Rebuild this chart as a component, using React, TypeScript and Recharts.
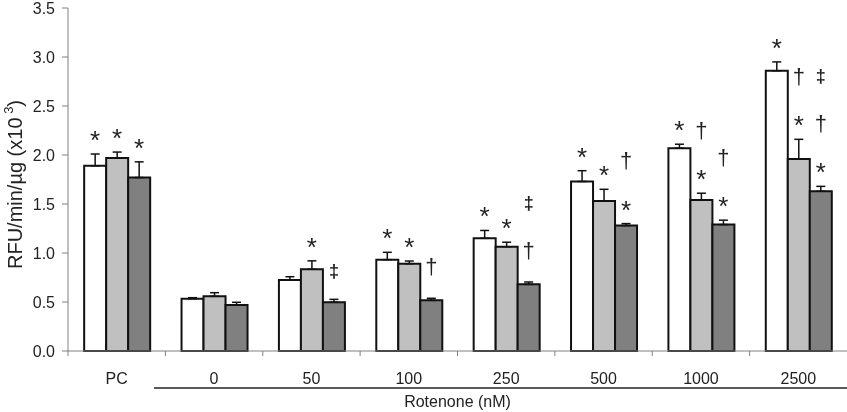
import React from 'react';
import { BarChart, Bar, XAxis, YAxis, ErrorBar, LabelList } from 'recharts';

const categories = ['PC', '0', '50', '100', '250', '500', '1000', '2500'];

const whiteValues = [1.89, 0.534, 0.724, 0.932, 1.15, 1.73, 2.07, 2.86];
const whiteErrors = [0.12, 0.01, 0.034, 0.075, 0.08, 0.11, 0.04, 0.09];
const whiteMarks = ['*', '', '', '*', '*', '*', '*', '*'];

const grayValues = [1.97, 0.558, 0.834, 0.891, 1.064, 1.53, 1.54, 1.96];
const grayErrors = [0.06, 0.037, 0.086, 0.027, 0.046, 0.12, 0.07, 0.2];
const grayMarks = ['*', '', '*', '*', '*', '*', '*†', '*†'];

const darkValues = [1.77, 0.469, 0.497, 0.517, 0.68, 1.28, 1.29, 1.63];
const darkErrors = [0.16, 0.028, 0.03, 0.021, 0.024, 0.02, 0.045, 0.05];
const darkMarks = ['*', '', '‡', '†', '†‡', '*†', '*†', '*†‡'];

const yTicks = [0, 0.5, 1, 1.5, 2, 2.5, 3, 3.5];
const xAxisTitle = 'Rotenone (nM)';

const data = categories.map((c, i) => ({
  cat: c,
  white: whiteValues[i],
  whiteErr: [0, whiteErrors[i]],
  whiteMark: whiteMarks[i],
  gray: grayValues[i],
  grayErr: [0, grayErrors[i]],
  grayMark: grayMarks[i],
  dark: darkValues[i],
  darkErr: [0, darkErrors[i]],
  darkMark: darkMarks[i],
}));

const FONT = '"Liberation Sans", Arial, Helvetica, sans-serif';
const W = 847;
const H = 412;
const PLOT_LEFT = 68;
const PLOT_W = W - PLOT_LEFT;
const BAND = PLOT_W / categories.length;

const firstOffset: Record<string, number> = { '*': 20, '†': 31, '‡': 28 };
const stepOffset: Record<string, number> = { '*': 42, '†': 42, '‡': 48 };
const symSize: Record<string, number> = { '*': 26, '†': 22, '‡': 18 };
const symWeight: Record<string, string> = { '*': 'normal', '†': 'normal', '‡': 'bold' };
const baselineShift: Record<string, number> = { '*': 15, '†': 6.5, '‡': 5.5 };

const makeMarkRenderer = (errors: number[], values: number[]) => (props: any) => {
  const { x, y, width, height, value, index } = props;
  if (!value) return null;
  const pxPerUnit = Number(height) / values[index];
  const errTop = Number(y) - errors[index] * pxPerUnit;
  const cx = Number(x) + Number(width) / 2;
  const syms = String(value).split('');
  let off = 0;
  return (
    <g>
      {syms.map((s, k) => {
        off += k === 0 ? firstOffset[s] : stepOffset[s];
        const cy = errTop - off;
        return (
          <text
            key={k}
            x={cx}
            y={cy + baselineShift[s]}
            textAnchor="middle"
            fontSize={symSize[s]}
            fontWeight={symWeight[s]}
            fontFamily={FONT}
            fill="#222"
          >
            {s}
          </text>
        );
      })}
    </g>
  );
};

const XTick = (props: any) => {
  const { x, y, payload } = props;
  const left = x - BAND / 2;
  return (
    <g>
      <line x1={left} y1={y} x2={left} y2={y + 5} stroke="#808080" strokeWidth={1} />
      <text
        x={x}
        y={y + 33}
        textAnchor="middle"
        fontSize={16}
        fontFamily={FONT}
        fill="#222"
      >
        {payload.value}
      </text>
    </g>
  );
};

const XTitle = (props: any) => {
  const vb = props.viewBox || { x: PLOT_LEFT, y: 351, width: PLOT_W, height: 61 };
  return (
    <g>
      <line
        x1={vb.x + 86}
        y1={vb.y + 37}
        x2={vb.x + vb.width}
        y2={vb.y + 37}
        stroke="#222"
        strokeWidth={1.5}
      />
      <text
        x={vb.x + vb.width / 2}
        y={vb.y + 56}
        textAnchor="middle"
        fontSize={16}
        fontFamily={FONT}
        fill="#222"
      >
        {xAxisTitle}
      </text>
    </g>
  );
};

const YTitle = (props: any) => {
  const vb = props.viewBox || { x: 0, y: 8, width: 68, height: 343 };
  const cy = vb.y + vb.height / 2 + 5;
  const cx = 22;
  return (
    <text
      x={cx}
      y={cy}
      transform={`rotate(-90 ${cx} ${cy})`}
      textAnchor="middle"
      fontSize={20}
      fontFamily={FONT}
      fill="#222"
    >
      RFU/min/µg (x10
      <tspan fontSize={13} dy={-9}> 3</tspan>
      <tspan dy={9}>)</tspan>
    </text>
  );
};

export default function App() {
  return (
    <div
      style={{
        position: 'absolute',
        left: 0,
        top: 0,
        width: W,
        height: H,
        background: '#fff',
        filter: 'grayscale(1)',
      }}
    >
      <BarChart
        width={W}
        height={H}
        data={data}
        margin={{ top: 8, right: 0, bottom: 0, left: 0 }}
        barCategoryGap="16.6%"
        barGap={0}
      >
        <YAxis
          width={PLOT_LEFT}
          domain={[0, 3.5]}
          ticks={yTicks}
          interval={0}
          tickFormatter={(v: number) => v.toFixed(1)}
          tick={{ fontSize: 16, fontFamily: FONT, fill: '#222' }}
          tickSize={6}
          tickMargin={7}
          stroke="#808080"
          axisLine={{ stroke: '#808080' }}
          tickLine={{ stroke: '#808080' }}
          label={<YTitle />}
        />
        <XAxis
          dataKey="cat"
          height={61}
          interval={0}
          tickSize={0}
          tickMargin={0}
          tickLine={false}
          axisLine={{ stroke: '#808080' }}
          tick={<XTick />}
          label={<XTitle />}
        />
        <Bar dataKey="white" fill="#ffffff" stroke="#111" strokeWidth={2} isAnimationActive={false}>
          <ErrorBar dataKey="whiteErr" width={4.5} stroke="#111" strokeWidth={1.5} />
          <LabelList dataKey="whiteMark" content={makeMarkRenderer(whiteErrors, whiteValues)} />
        </Bar>
        <Bar dataKey="gray" fill="#c0c0c0" stroke="#111" strokeWidth={2} isAnimationActive={false}>
          <ErrorBar dataKey="grayErr" width={4.5} stroke="#111" strokeWidth={1.5} />
          <LabelList dataKey="grayMark" content={makeMarkRenderer(grayErrors, grayValues)} />
        </Bar>
        <Bar dataKey="dark" fill="#808080" stroke="#111" strokeWidth={2} isAnimationActive={false}>
          <ErrorBar dataKey="darkErr" width={4.5} stroke="#111" strokeWidth={1.5} />
          <LabelList dataKey="darkMark" content={makeMarkRenderer(darkErrors, darkValues)} />
        </Bar>
      </BarChart>
    </div>
  );
}
